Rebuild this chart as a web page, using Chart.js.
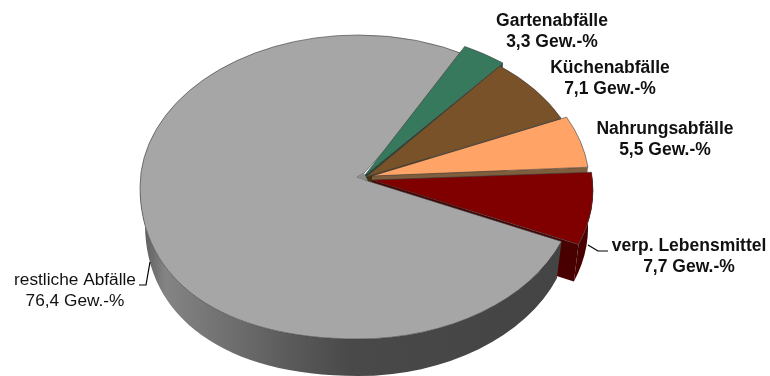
<!DOCTYPE html>
<html>
<head>
<meta charset="utf-8">
<title>Abfälle</title>
<style>
  html, body { margin: 0; padding: 0; background: #fff; }
  canvas { display: block; }
</style>
</head>
<body>
<canvas id="myChart" width="770" height="376"></canvas>
<script src="https://cdn.jsdelivr.net/npm/chart.js@4"></script>
<script>
const categories = ["restliche Abfälle", "Gartenabfälle", "Küchenabfälle", "Nahrungsabfälle", "verp. Lebensmittel"];
const shares = [76.4, 3.3, 7.1, 5.5, 7.7];
const unit = "Gew.-%";

const topColors = ["#a6a6a6", "#37795c", "#7a5229", "#ffa366", "#800000"];
const wallColors = ["#8c8c8c", "#1f4a38", "#45300f", "#7f5e3e", "#480000"];

// ellipse of the top face, per slice (the slices are pulled out a little)
const RX = 218, RY = 152, DEPTH = 37, BOTTOM_RX = 213;
const faces = [
  { cx: 358, cy: 187, ax: 358, ay: 178 },
  { cx: 369, cy: 183, ax: 365, ay: 175 },
  { cx: 366, cy: 186, ax: 366, ay: 177 },
  { cx: 371.5, cy: 185, ax: 372, ay: 176 },
  { cx: 375, cy: 190, ax: 372, ay: 180 },
];
// the grey face runs on under the green one, so no gap opens between them
const GREY_TUCK = 5 * Math.PI / 180;
// its point is blunt, the inner wall shows as a small darker triangle
const GREY_TIP = [[364, 173], [357, 177], [368, 181]];
// perspective makes the lower left quarter of the disc fuller than an ellipse
const KAPPA = 0.62;

// text anchors and leader lines
const labelSpots = [
  { x: 75, y: 279, bold: false },
  { x: 552, y: 20, bold: true },
  { x: 610, y: 67, bold: true },
  { x: 665, y: 128, bold: true },
  { x: 689, y: 245, bold: true },
];
const leaders = [
  [[139, 285], [146, 285], [150, 262]],
  [[588, 245], [598, 251], [608, 251]],
];

function rim(f, angle, low) {
  const rx = low ? BOTTOM_RX : RX;
  return { x: f.cx + rx * Math.cos(angle), y: f.cy + RY * Math.sin(angle) + (low ? DEPTH : 0) };
}

function drawRedOuterWall(ctx, f, from, to) {
  ctx.beginPath();
  ctx.ellipse(f.cx, f.cy, RX, RY, 0, from, to);
  ctx.ellipse(f.cx, f.cy + DEPTH, BOTTOM_RX, RY, 0, to, from, true);
  ctx.closePath();
  ctx.fill();
}

function drawGreyOuterWall(ctx, f, from) {
  const cyLow = f.cy + DEPTH;
  ctx.beginPath();
  ctx.ellipse(f.cx, f.cy, RX, RY, 0, from, Math.PI / 2);
  ctx.bezierCurveTo(f.cx - KAPPA * RX, f.cy + RY, f.cx - RX, f.cy + KAPPA * RY, f.cx - RX, f.cy);
  ctx.lineTo(f.cx - BOTTOM_RX, cyLow);
  ctx.bezierCurveTo(f.cx - BOTTOM_RX, cyLow + KAPPA * RY, f.cx - KAPPA * BOTTOM_RX, cyLow + RY, f.cx, cyLow + RY);
  ctx.ellipse(f.cx, cyLow, BOTTOM_RX, RY, 0, Math.PI / 2, from, true);
  ctx.closePath();
  ctx.fill();
}

function drawCutWall(ctx, f, angle) {
  const a = rim(f, angle, false), b = rim(f, angle, true);
  ctx.beginPath();
  ctx.moveTo(f.ax, f.ay);
  ctx.lineTo(a.x, a.y);
  ctx.lineTo(b.x, b.y);
  ctx.lineTo(f.ax, f.ay + DEPTH);
  ctx.closePath();
  ctx.fill();
}

function paintFace(ctx, el) {
  ctx.fillStyle = el.options.backgroundColor;
  ctx.fill();
  ctx.lineWidth = el.options.borderWidth;
  ctx.strokeStyle = el.options.borderColor;
  ctx.stroke();
}

function drawTop(ctx, el, f) {
  ctx.beginPath();
  ctx.moveTo(f.ax, f.ay);
  ctx.ellipse(f.cx, f.cy, RX, RY, 0, el.startAngle, el.endAngle);
  ctx.closePath();
  paintFace(ctx, el);
}

function drawGreyTop(ctx, el, f) {
  ctx.beginPath();
  ctx.moveTo(GREY_TIP[2][0], GREY_TIP[2][1]);
  ctx.ellipse(f.cx, f.cy, RX, RY, 0, el.startAngle, Math.PI / 2);
  ctx.bezierCurveTo(f.cx - KAPPA * RX, f.cy + RY, f.cx - RX, f.cy + KAPPA * RY, f.cx - RX, f.cy);
  ctx.ellipse(f.cx, f.cy, RX, RY, 0, Math.PI, el.endAngle + GREY_TUCK);
  ctx.lineTo(GREY_TIP[0][0], GREY_TIP[0][1]);
  ctx.lineTo(GREY_TIP[1][0], GREY_TIP[1][1]);
  ctx.closePath();
  paintFace(ctx, el);

  ctx.beginPath();
  ctx.moveTo(GREY_TIP[0][0], GREY_TIP[0][1]);
  ctx.lineTo(GREY_TIP[1][0], GREY_TIP[1][1]);
  ctx.lineTo(GREY_TIP[2][0], GREY_TIP[2][1]);
  ctx.closePath();
  ctx.fillStyle = wallColors[0];
  ctx.fill();
}

// The arcs keep the angles the library worked out, only the face is squashed to 3D
const pie3d = {
  id: "pie3d",
  beforeDatasetDraw(chart, args) {
    const ctx = chart.ctx;
    const arcs = args.meta.data;
    ctx.save();

    // cut walls of the coloured slices, they only show through the gaps
    [1, 2, 3, 4].forEach((i) => {
      ctx.fillStyle = wallColors[i];
      drawCutWall(ctx, faces[i], arcs[i].endAngle);
    });
    drawRedOuterWall(ctx, faces[4], arcs[4].startAngle, arcs[4].endAngle);

    // big grey slice
    const grad = ctx.createLinearGradient(140, 0, 560, 0);
    grad.addColorStop(0, "#585858");
    grad.addColorStop(0.06, "#848484");
    grad.addColorStop(0.15, "#787878");
    grad.addColorStop(0.36, "#5a5a5a");
    grad.addColorStop(0.5, "#494949");
    grad.addColorStop(1, "#444444");
    ctx.fillStyle = grad;
    drawGreyOuterWall(ctx, faces[0], arcs[0].startAngle);
    drawGreyTop(ctx, arcs[0], faces[0]);

    [1, 2, 3, 4].forEach((i) => drawTop(ctx, arcs[i], faces[i]));
    ctx.restore();
    return false;
  },
  afterDraw(chart) {
    const ctx = chart.ctx;
    ctx.save();
    ctx.strokeStyle = "#000";
    ctx.lineWidth = 1.2;
    leaders.forEach((line) => {
      ctx.beginPath();
      line.forEach((p, i) => (i ? ctx.lineTo(p[0], p[1]) : ctx.moveTo(p[0], p[1])));
      ctx.stroke();
    });
    ctx.fillStyle = "#111";
    ctx.textAlign = "center";
    ctx.textBaseline = "middle";
    categories.forEach((name, i) => {
      const spot = labelSpots[i];
      ctx.font = spot.bold ? "bold 17.5px 'Liberation Sans'" : "17.25px 'Liberation Sans'";
      ctx.fillText(name, spot.x, spot.y + 1);
      ctx.fillText(shares[i].toFixed(1).replace(".", ",") + " " + unit, spot.x, spot.y + 22);
    });
    ctx.restore();
  },
};

const myChart = new Chart(document.getElementById("myChart").getContext("2d"), {
  type: "pie",
  data: {
    labels: categories,
    datasets: [
      {
        data: shares,
        backgroundColor: topColors,
        borderColor: "#3a3a3a",
        borderWidth: 0.6,
      },
    ],
  },
  options: {
    responsive: false,
    animation: false,
    rotation: 111,
    plugins: {
      legend: { display: false },
      tooltip: { enabled: false },
    },
  },
  plugins: [pie3d],
});
</script>
</body>
</html>
